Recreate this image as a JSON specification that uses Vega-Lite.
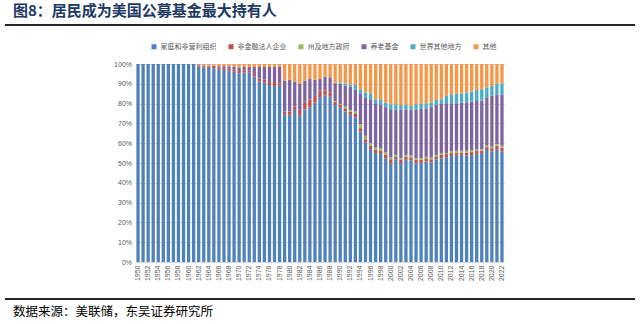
{
  "$schema": "https://vega.github.io/schema/vega-lite/v6.json",
  "background": "white",
  "padding": {"left": 5, "right": 5, "top": 4, "bottom": 0},
  "config": {"font": "Noto Sans CJK SC"},
  "spacing": 17,
  "center": true,
  "resolve": {"legend": {"color": "independent"}, "scale": {"color": "independent"}},
  "datasets": {
    "d": [
      {"year":"1950","h":100,"c":0,"s":0,"p":0,"w":0,"o":0},
      {"year":"1951","h":100,"c":0,"s":0,"p":0,"w":0,"o":0},
      {"year":"1952","h":100,"c":0,"s":0,"p":0,"w":0,"o":0},
      {"year":"1953","h":100,"c":0,"s":0,"p":0,"w":0,"o":0},
      {"year":"1954","h":100,"c":0,"s":0,"p":0,"w":0,"o":0},
      {"year":"1955","h":100,"c":0,"s":0,"p":0,"w":0,"o":0},
      {"year":"1956","h":100,"c":0,"s":0,"p":0,"w":0,"o":0},
      {"year":"1957","h":100,"c":0,"s":0,"p":0,"w":0,"o":0},
      {"year":"1958","h":100,"c":0,"s":0,"p":0,"w":0,"o":0},
      {"year":"1959","h":100,"c":0,"s":0,"p":0,"w":0,"o":0},
      {"year":"1960","h":100,"c":0,"s":0,"p":0,"w":0,"o":0},
      {"year":"1961","h":100,"c":0,"s":0,"p":0,"w":0,"o":0},
      {"year":"1962","h":98.7,"c":0.5,"s":0,"p":0.3,"w":0,"o":0.5},
      {"year":"1963","h":98.3,"c":0.6,"s":0,"p":0.4,"w":0,"o":0.7},
      {"year":"1964","h":98.0,"c":0.7,"s":0,"p":0.5,"w":0,"o":0.8},
      {"year":"1965","h":97.8,"c":0.7,"s":0,"p":0.6,"w":0,"o":0.9},
      {"year":"1966","h":97.3,"c":0.8,"s":0,"p":0.8,"w":0,"o":1.1},
      {"year":"1967","h":97.0,"c":0.9,"s":0,"p":1.0,"w":0,"o":1.1},
      {"year":"1968","h":96.6,"c":1.0,"s":0,"p":1.2,"w":0,"o":1.2},
      {"year":"1969","h":96.1,"c":1.0,"s":0,"p":1.5,"w":0,"o":1.4},
      {"year":"1970","h":95.3,"c":1.2,"s":0,"p":1.8,"w":0,"o":1.7},
      {"year":"1971","h":95.8,"c":1.0,"s":0,"p":1.7,"w":0,"o":1.5},
      {"year":"1972","h":95.6,"c":1.0,"s":0,"p":1.9,"w":0,"o":1.5},
      {"year":"1973","h":93.6,"c":1.4,"s":0,"p":3.5,"w":0,"o":1.5},
      {"year":"1974","h":91.1,"c":1.6,"s":0,"p":5.8,"w":0,"o":1.5},
      {"year":"1975","h":90.6,"c":1.5,"s":0,"p":6.4,"w":0,"o":1.5},
      {"year":"1976","h":89.4,"c":1.5,"s":0,"p":7.6,"w":0,"o":1.5},
      {"year":"1977","h":88.9,"c":1.5,"s":0,"p":8.1,"w":0,"o":1.5},
      {"year":"1978","h":89.0,"c":1.3,"s":0,"p":8.2,"w":0,"o":1.5},
      {"year":"1979","h":74.3,"c":1.7,"s":0,"p":15.6,"w":0,"o":8.4},
      {"year":"1980","h":74.3,"c":1.7,"s":0,"p":16.0,"w":0,"o":8.0},
      {"year":"1981","h":76.8,"c":1.7,"s":0,"p":12.5,"w":0,"o":9.0},
      {"year":"1982","h":73.8,"c":3.0,"s":0,"p":13.2,"w":0,"o":10.0},
      {"year":"1983","h":77.1,"c":3.9,"s":0,"p":10.6,"w":0,"o":8.4},
      {"year":"1984","h":78.0,"c":4.0,"s":0,"p":10.4,"w":0,"o":7.6},
      {"year":"1985","h":80.5,"c":3.4,"s":0,"p":8.1,"w":0,"o":8.0},
      {"year":"1986","h":83.2,"c":3.4,"s":0,"p":5.8,"w":0,"o":7.6},
      {"year":"1987","h":84.0,"c":2.6,"s":0,"p":7.0,"w":0,"o":6.4},
      {"year":"1988","h":83.5,"c":2.0,"s":0,"p":7.8,"w":0,"o":6.7},
      {"year":"1989","h":79.3,"c":1.7,"s":0.3,"p":9.0,"w":0.3,"o":9.4},
      {"year":"1990","h":78.2,"c":1.1,"s":0.5,"p":10.2,"w":0.5,"o":9.5},
      {"year":"1991","h":76.0,"c":1.6,"s":0.9,"p":10.5,"w":1.0,"o":10.0},
      {"year":"1992","h":74.3,"c":1.7,"s":0.8,"p":11.8,"w":1.1,"o":10.3},
      {"year":"1993","h":73.1,"c":1.7,"s":1.2,"p":11.2,"w":2.2,"o":10.6},
      {"year":"1994","h":65.9,"c":1.7,"s":2.0,"p":15.6,"w":2.0,"o":12.8},
      {"year":"1995","h":60.3,"c":1.7,"s":1.7,"p":19.5,"w":2.5,"o":14.3},
      {"year":"1996","h":57.0,"c":1.7,"s":1.3,"p":22.2,"w":2.7,"o":15.1},
      {"year":"1997","h":55.0,"c":1.6,"s":1.2,"p":22.4,"w":2.0,"o":17.8},
      {"year":"1998","h":54.6,"c":1.7,"s":1.2,"p":21.8,"w":2.5,"o":18.2},
      {"year":"1999","h":52.4,"c":1.7,"s":1.2,"p":22.9,"w":2.3,"o":19.5},
      {"year":"2000","h":49.9,"c":2.0,"s":0.9,"p":24.0,"w":2.9,"o":20.3},
      {"year":"2001","h":51.9,"c":1.4,"s":0.8,"p":22.7,"w":2.9,"o":20.3},
      {"year":"2002","h":49.9,"c":1.7,"s":0.8,"p":24.7,"w":2.2,"o":20.7},
      {"year":"2003","h":51.6,"c":1.7,"s":0.8,"p":23.0,"w":2.2,"o":20.7},
      {"year":"2004","h":51.3,"c":1.6,"s":0.9,"p":23.0,"w":2.0,"o":21.2},
      {"year":"2005","h":49.9,"c":1.7,"s":0.7,"p":24.8,"w":2.6,"o":20.3},
      {"year":"2006","h":49.9,"c":1.7,"s":0.8,"p":24.9,"w":2.5,"o":20.2},
      {"year":"2007","h":50.8,"c":1.6,"s":0.7,"p":24.5,"w":2.6,"o":19.8},
      {"year":"2008","h":50.3,"c":1.6,"s":0.8,"p":25.5,"w":2.3,"o":19.5},
      {"year":"2009","h":51.9,"c":1.4,"s":0.8,"p":25.2,"w":2.5,"o":18.2},
      {"year":"2010","h":52.4,"c":1.7,"s":0.7,"p":25.0,"w":2.4,"o":17.8},
      {"year":"2011","h":52.8,"c":1.7,"s":0.5,"p":25.2,"w":3.7,"o":16.1},
      {"year":"2012","h":53.6,"c":1.4,"s":0.8,"p":24.4,"w":4.5,"o":15.3},
      {"year":"2013","h":53.6,"c":1.4,"s":1.1,"p":24.1,"w":4.7,"o":15.1},
      {"year":"2014","h":54.1,"c":1.2,"s":0.9,"p":24.3,"w":4.7,"o":14.8},
      {"year":"2015","h":53.8,"c":1.5,"s":0.9,"p":24.5,"w":5.0,"o":14.3},
      {"year":"2016","h":54.0,"c":1.5,"s":0.8,"p":24.7,"w":5.1,"o":13.9},
      {"year":"2017","h":54.6,"c":1.5,"s":0.7,"p":24.5,"w":5.6,"o":13.1},
      {"year":"2018","h":55.0,"c":1.3,"s":0.7,"p":24.5,"w":5.7,"o":12.8},
      {"year":"2019","h":56.6,"c":1.4,"s":0.8,"p":24.4,"w":5.0,"o":11.8},
      {"year":"2020","h":55.8,"c":1.7,"s":0.8,"p":25.6,"w":5.0,"o":11.1},
      {"year":"2021","h":57.0,"c":1.7,"s":0.8,"p":24.9,"w":5.5,"o":10.1},
      {"year":"2022","h":55.8,"c":2.0,"s":0.9,"p":26.0,"w":5.6,"o":9.7}
    ]
  },
  "vconcat": [
    {
      "title": {"text": "图8：居民成为美国公募基金最大持有人", "anchor": "start", "fontSize": 15, "fontWeight": "bold", "color": "#203864", "offset": 5, "dx": 8},
      "width": 630,
      "height": 2,
      "view": {"fill": "#262626", "stroke": null},
      "data": {"values": []},
      "mark": {"type": "rule"},
      "encoding": {}
    },
    {
      "resolve": {"legend": {"color": "independent"}, "scale": {"color": "independent"}},
      "hconcat": [
        {
          "width": 369,
          "height": 198,
          "view": {"stroke": null},
          "data": {"name": "d"},
          "transform": [
            {"fold": ["h", "c", "s", "p", "w", "o"], "as": ["key", "value"]},
            {"calculate": "{'h':'家庭和非营利组织','c':'非金融法人企业','s':'州及地方政府','p':'养老基金','w':'世界其他地方','o':'其他'}[datum.key]", "as": "k"},
            {"calculate": "indexof(['h','c','s','p','w','o'], datum.key)", "as": "ord"}
          ],
          "mark": {"type": "bar"},
          "encoding": {
            "x": {
              "field": "year", "type": "ordinal",
              "scale": {"paddingInner": 0.35, "paddingOuter": 0.175},
              "axis": {"title": null, "labelAngle": -90, "labelExpr": "toNumber(datum.value) % 2 == 0 ? datum.value : ''", "ticks": false, "domainColor": "#D9D9D9", "labelFontSize": 7, "labelColor": "#595959", "labelPadding": 3, "labelFont": "Liberation Sans"}
            },
            "y": {
              "field": "value", "type": "quantitative", "stack": "normalize",
              "scale": {"domain": [0, 1]},
              "axis": {"title": null, "values": [0, 0.1, 0.2, 0.3, 0.4, 0.5, 0.6, 0.7, 0.8, 0.9, 1], "format": ".0%", "grid": true, "gridColor": "#D9D9D9", "domain": false, "ticks": false, "labelFontSize": 7, "labelColor": "#595959", "labelPadding": 4, "labelFont": "Liberation Sans"}
            },
            "color": {
              "field": "k", "type": "nominal",
              "scale": {"domain": ["家庭和非营利组织", "非金融法人企业", "州及地方政府", "养老基金", "世界其他地方", "其他"], "range": ["#4F81BD", "#C0504D", "#9BBB59", "#8064A2", "#4BACC6", "#F79646"]},
              "legend": {"title": null, "orient": "none", "legendX": 15, "legendY": -21, "direction": "horizontal", "symbolType": "square", "symbolSize": 25, "symbolStrokeWidth": 0, "labelFontSize": 7, "labelColor": "#595959", "labelOffset": 3, "columnPadding": 11}
            },
            "order": {"field": "ord", "type": "quantitative"}
          }
        }
      ]
    },
    {
      "title": {"text": "数据来源：美联储，东吴证券研究所", "orient": "bottom", "anchor": "start", "fontSize": 12.5, "fontWeight": "normal", "color": "#000000", "offset": 6, "dx": 8},
      "width": 630,
      "height": 2,
      "view": {"fill": "#262626", "stroke": null},
      "data": {"values": []},
      "mark": {"type": "rule"},
      "encoding": {}
    }
  ]
}
